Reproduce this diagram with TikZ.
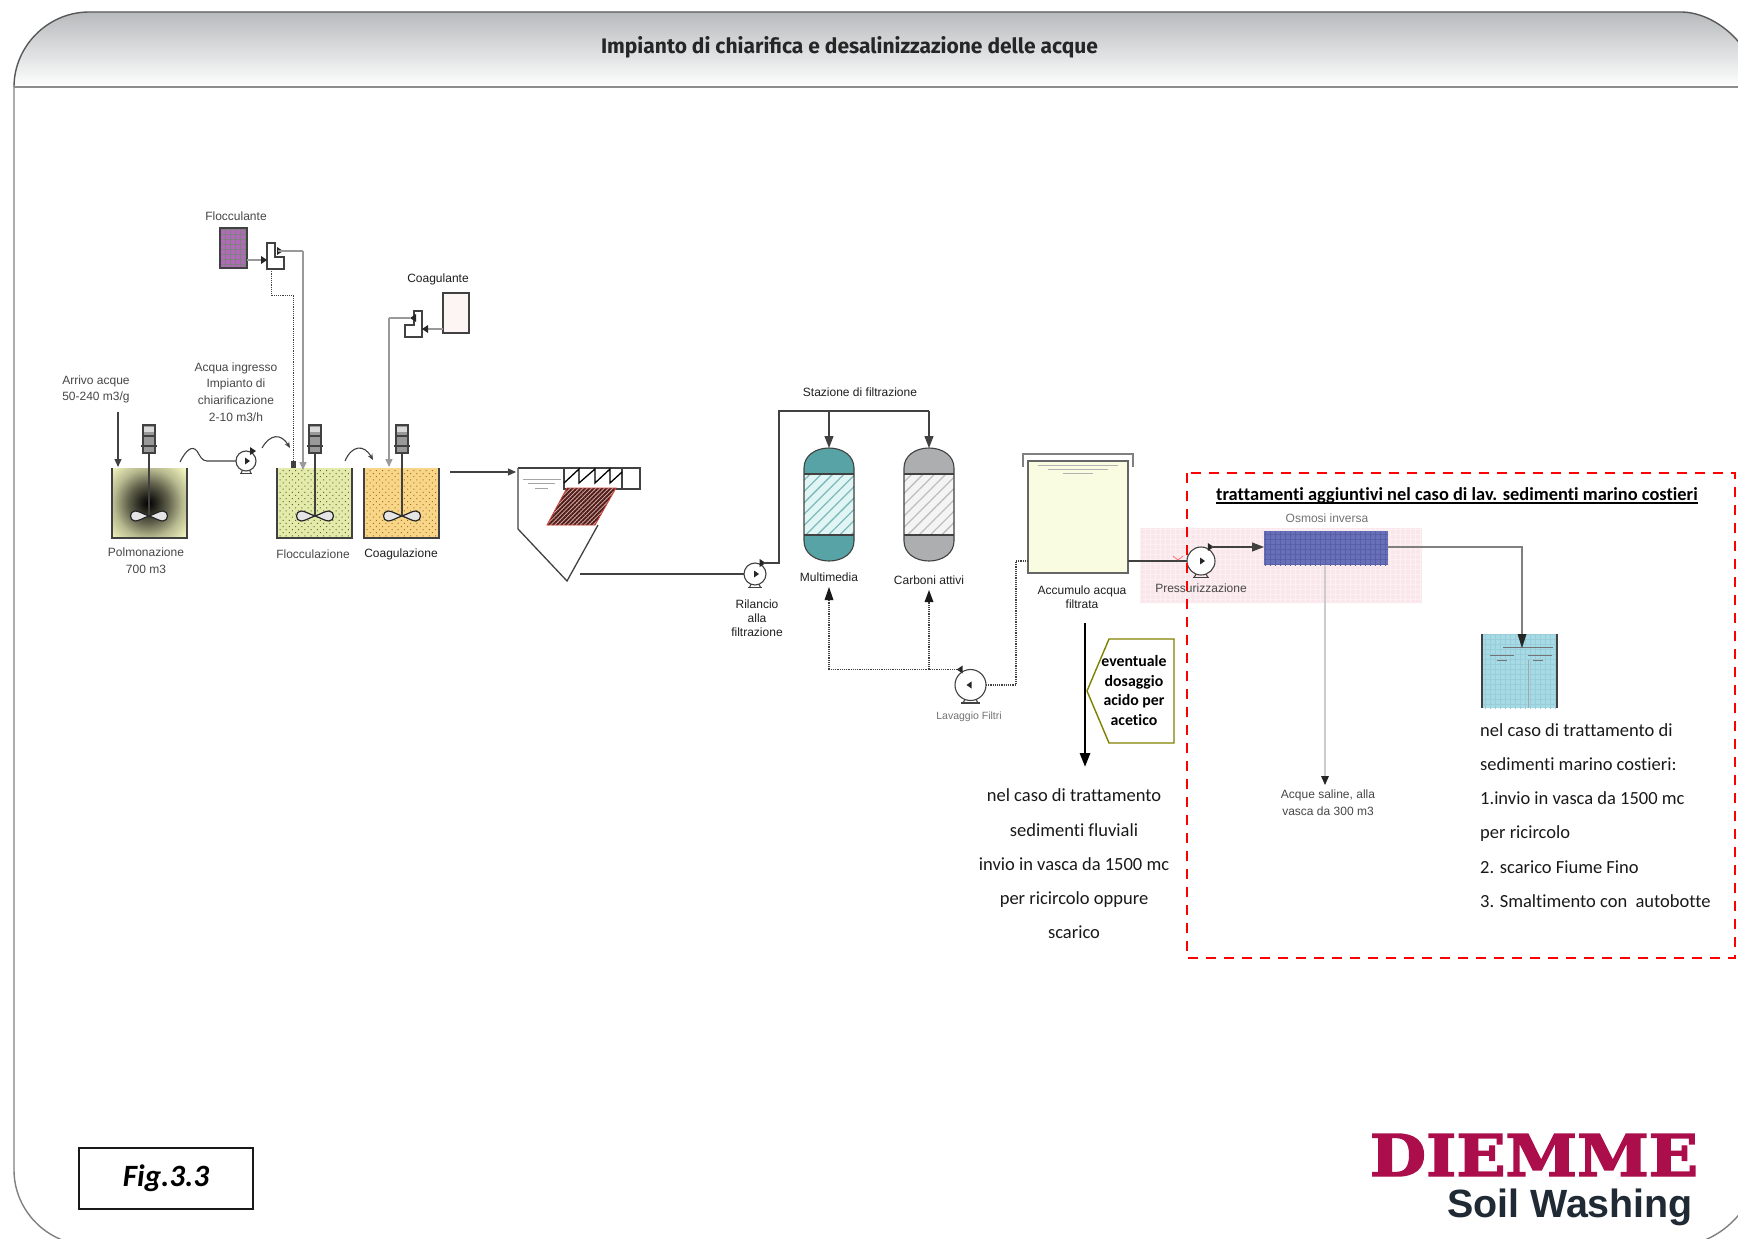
\documentclass[tikz,border=0pt]{standalone}
\usepackage{fontspec}
\usepackage{graphicx}
\setmainfont{Liberation Sans}
\newfontfamily\carl[Ligatures=NoCommon]{Carlito}
\newfontfamily\opens{Fira Sans}
\newfontfamily\slab[BoldFeatures={FakeBold=2.5}]{DejaVu Serif}
\usetikzlibrary{arrows.meta,patterns.meta}
\definecolor{ln}{RGB}{65,65,65}
\definecolor{polc}{RGB}{243,245,190}
\definecolor{flocc}{RGB}{228,234,170}
\definecolor{coagc}{RGB}{248,214,135}
\definecolor{teal1}{RGB}{88,163,165}
\definecolor{teal2}{RGB}{226,245,245}
\definecolor{tealh}{RGB}{125,185,188}
\definecolor{grey1}{RGB}{172,174,176}
\definecolor{grey2}{RGB}{244,244,244}
\definecolor{greyh}{RGB}{190,190,190}
\definecolor{olive1}{RGB}{128,128,0}
\definecolor{logo}{RGB}{172,14,76}
\definecolor{logob}{RGB}{32,42,52}
\definecolor{pinkb}{RGB}{249,231,235}
\definecolor{pinkg}{RGB}{252,240,242}
\definecolor{rob}{RGB}{104,112,186}
\definecolor{robg}{RGB}{88,96,165}
\definecolor{wat}{RGB}{166,218,228}
\definecolor{watg}{RGB}{152,205,217}
\definecolor{purp}{RGB}{176,106,184}
\definecolor{headg}{RGB}{183,186,188}
\definecolor{lamel}{RGB}{225,175,165}
\definecolor{lamdk}{RGB}{75,30,30}
\definecolor{lamred}{RGB}{205,70,60}
\definecolor{cgfill}{RGB}{252,245,243}
\definecolor{accf}{RGB}{250,252,226}
\definecolor{dotg}{RGB}{80,110,50}
\definecolor{dotb}{RGB}{170,105,40}
\pgfdeclareradialshading{polsh}{\pgfpoint{0bp}{0bp}}{%
 color(0bp)=(black);
 color(4bp)=(black!85!polc);
 color(10bp)=(black!60!polc);
 color(17bp)=(black!25!polc);
 color(25bp)=(polc);
 color(50bp)=(polc)}
\tikzset{
 x=1pt,y=-1pt,
 pipe/.style={draw=ln,line width=1.1pt},
 lightpipe/.style={draw=black!20,line width=1.4pt},
 dospipe/.style={draw=black!40,line width=1.4pt},
 dotpipe/.style={draw=ln,line width=1.3pt,dash pattern=on 1.2pt off 1pt},
 tip/.style={-{Triangle[length=8pt,width=7pt]}},
 bigtip/.style={-{Triangle[length=12pt,width=9pt]}},
 lab/.style={font=\fontsize{12}{16.7}\selectfont,text=black!72,align=center,inner sep=0pt},
 labd/.style={lab,text=black!88},
 labl/.style={lab,text=black!55},
 tightlab/.style={labd,font=\fontsize{12}{14}\selectfont},
 cal/.style={font=\carl\fontsize{18.5}{34.2}\selectfont,text=black!90,inner sep=0pt},
 vesselnode/.style={inner sep=0pt,outer sep=0pt,minimum width=50pt,minimum height=113pt},
 tanknode/.style={inner sep=0pt,outer sep=0pt,minimum width=75pt,minimum height=70pt},
 dosenode/.style={inner sep=0pt,outer sep=0pt,minimum width=17pt,minimum height=26pt},
}
\newcommand{\pumpat}[5]{%
 \begin{scope}[shift={(#2,#3)},xscale=#5]
  \draw[ln,line width=1.1pt] (-0.6*#4,#4+2.5) -- (0.6*#4,#4+2.5);
  \draw[ln,line width=1.1pt] (-0.5*#4,#4+2.5) -- (-0.3*#4,#4-2);
  \draw[ln,line width=1.1pt] (0.5*#4,#4+2.5) -- (0.3*#4,#4-2);
  \node[circle,draw=ln,line width=1.1pt,fill=white,inner sep=0pt,outer sep=0pt,minimum size=2*#4pt] (#1) at (0,0) {};
  \fill[black!85] (-1,-3.5) -- (4,0) -- (-1,3.5) -- cycle;
  \coordinate (#1-out) at (0.7*#4,-#4);
  \fill[black!85] (0.7*#4-3,-#4-4) -- (0.7*#4+3,-#4) -- (0.7*#4-3,-#4+4) -- cycle;
 \end{scope}}
\newcommand{\mixerat}[1]{%
 \begin{scope}[shift={(#1,0)}]
  \draw[ln,line width=1.8pt] (0,453) -- (0,516);
  \draw[ln,line width=1.3pt,fill=black!40] (-6,425) rectangle (6,453);
  \fill[black!15] (-5,427) rectangle (5,432);
  \draw[ln,line width=1.2pt] (-8,446) -- (8,446);
  \draw[ln,line width=1.2pt] (-6,436) -- (6,436);
  \draw[black!85,line width=1.2pt,fill=black!10]
   (0,516) .. controls (6,514) and (10,511) .. (14,511) .. controls (20,511) and (20,521) .. (14,521) .. controls (10,521) and (6,518) .. (0,516)
   .. controls (-6,514) and (-10,511) .. (-14,511) .. controls (-20,511) and (-20,521) .. (-14,521) .. controls (-10,521) and (-6,518) .. (0,516);
 \end{scope}}
\newcommand{\vesselfill}[4]{% cx, band colour, mid colour, hatch colour
 \begin{scope}[shift={(#1,0)}]
  \path[fill=#2] (-25,468) .. controls (-25,456) and (-14,448) .. (0,448) .. controls (14,448) and (25,456) .. (25,468) -- (25,541) .. controls (25,553) and (14,561) .. (0,561) .. controls (-14,561) and (-25,553) .. (-25,541) -- cycle;
  \fill[#3] (-25,474) rectangle (25,535);
  \fill[pattern={Lines[angle=45,distance=8pt,line width=1.3pt]},pattern color=#4] (-25,474) rectangle (25,535);
  \draw[ln,line width=1.1pt] (-25,468) .. controls (-25,456) and (-14,448) .. (0,448) .. controls (14,448) and (25,456) .. (25,468) -- (25,541) .. controls (25,553) and (14,561) .. (0,561) .. controls (-14,561) and (-25,553) .. (-25,541) -- cycle;
  \draw[ln,line width=1.1pt] (-25,474) -- (25,474) (-25,535) -- (25,535);
 \end{scope}}
\newcommand{\doser}[3]{% x of left, y of top, mirror
 \begin{scope}[shift={(#1,#2)},xscale=#3]
  \draw[ln,line width=1.1pt,fill=white] (0,0) -- (8,0) -- (8,14) -- (17,14) -- (17,26) -- (0,26) -- cycle;
 \end{scope}}
\newcommand{\ulin}[1]{\setbox0\hbox{#1}\rlap{\rule[-3.5pt]{\wd0}{1.8pt}}\box0}
\begin{document}
\begin{tikzpicture}
\useasboundingbox (0,0) rectangle (1738,1239);
\clip (0,0) rectangle (1738,1239);
\fill[white] (0,0) rectangle (1738,1239);
% page frame
\shade[top color=headg,bottom color=white]
 (14,87) .. controls (14,46) and (48,12) .. (89,12) -- (1681,12) .. controls (1715,12) and (1756,46) .. (1756,87) -- cycle;
\draw[black!65,line width=1.4pt] (14,87) .. controls (14,46) and (48,12) .. (89,12) -- (1681,12) .. controls (1715,12) and (1756,46) .. (1756,87);
\draw[black!50,line width=1.4pt] (14,87) -- (14,1170) .. controls (14,1211) and (48,1245) .. (89,1245) -- (1681,1245) .. controls (1715,1245) and (1756,1211) .. (1756,1170) -- (1756,87);
\draw[black!45,line width=1.8pt] (14,87) -- (1756,87);
\node[font=\opens\bfseries\fontsize{21}{24}\selectfont,text=black!85,inner sep=0pt] (title) at (849.5,47) {Impianto di chiarifica e desalinizzazione delle acque};

% pink backdrop of reverse osmosis
\fill[pinkb] (1140,528) rectangle (1422,603);
\fill[pattern={Hatch[angle=0,distance=5pt,line width=0.3pt]},pattern color=pinkg] (1140,528) rectangle (1422,603);

% Polmonazione
\node[tanknode,fill=polc] (pol) at (149.5,503) {};
\begin{scope}
 \clip (112,468) rectangle (187,538);
 \shade[shading=polsh] (148,503) circle (50);
\end{scope}
\draw[ln,line width=1.2pt] (pol.north west) -- (pol.south west) -- (pol.south east) -- (pol.north east);
\mixerat{149}
\node[lab,anchor=center] (arrivo) at (96,389.5) {Arrivo acque\\50-240 m3/g};
\coordinate (arrivoS) at (118,412);
\coordinate (polin) at (118,467);
\draw[pipe,tip] (arrivoS) -- (polin);
\node[lab] (pollab) at (146,561) {Polmonazione\\700 m3};

% feed pump
\pumpat{pf}{246}{461}{10}{1}
\coordinate (wa) at (180,462);
\draw[pipe] (wa) .. controls (186,450) and (192,445) .. (197,451) .. controls (200,456) and (202,461) .. (207,461) -- (pf.west);
\coordinate (wb) at (262,448);
\coordinate (wc) at (290,448);
\draw[pipe,-{Stealth[length=6pt,width=5pt]}] (wb) .. controls (270,434) and (281,433) .. (wc);
\node[lab] (ingresso) at (236,392) {Acqua ingresso\\Impianto di\\chiarificazione\\2-10 m3/h};

% Flocculazione
\node[tanknode,fill=flocc] (flo) at (314.5,503) {};
\fill[pattern={Dots[distance=4.4pt,radius=0.7pt,angle=45]},pattern color=dotg] (flo.north west) rectangle (flo.south east);
\draw[ln,line width=1.2pt] (flo.north west) -- (flo.south west) -- (flo.south east) -- (flo.north east);
\mixerat{315}
\node[lab] (flolab) at (313,554) {Flocculazione};

% Coagulazione
\node[tanknode,fill=coagc] (coa) at (401.5,503) {};
\fill[pattern={Dots[distance=4.4pt,radius=0.7pt,angle=45]},pattern color=dotb] (coa.north west) rectangle (coa.south east);
\draw[ln,line width=1.2pt] (coa.north west) -- (coa.south west) -- (coa.south east) -- (coa.north east);
\mixerat{402}
\node[labd] (coalab) at (401,554) {Coagulazione};
\coordinate (wd) at (345,461);
\coordinate (we) at (373,460);
\draw[pipe,-{Stealth[length=6pt,width=5pt]}] (wd) .. controls (352,445) and (364,444) .. (we);

% Flocculante
\node[lab] (flcl) at (236,216) {Flocculante};
\node[inner sep=0pt,outer sep=0pt,minimum width=27pt,minimum height=40pt,fill=purp] (flct) at (233.5,248) {};
\fill[pattern={Hatch[angle=0,distance=5pt,line width=0.3pt]},pattern color=black!50] (flct.north west) rectangle (flct.south east);
\draw[ln,line width=1.2pt] (flct.north west) -- (flct.south west) -- (flct.south east) -- (flct.north east) -- cycle;
\node[dosenode] (dos1) at (275.5,256) {};
\doser{267}{243}{1}
\coordinate (flco) at (247,260);
\coordinate (dos1i) at (262,260);
\draw[dospipe] (flco) -- (dos1i);
\fill[black!85] (261,256) -- (267,260) -- (261,264) -- cycle;
\coordinate (dos1o) at (278,251);
\coordinate (dos1b) at (303,251);
\coordinate (floin) at (303,470);
\fill[black!85] (277,247) -- (283,251) -- (277,255) -- cycle;
\draw[dospipe] (dos1o) -- (dos1b);
\draw[dospipe,tip] (dos1b) -- (floin);
\coordinate (dos1s) at (271,269);
\coordinate (dos1k) at (271,295);
\coordinate (dos1m) at (293,295);
\coordinate (dos1e) at (293,462);
\draw[dotpipe,line width=1pt] (dos1s) -- (dos1k) -- (dos1m) -- (dos1e);
\fill[ln] (291,461) rectangle (296,468);

% Coagulante
\node[labd] (cgl) at (438,279) {Coagulante};
\node[inner sep=0pt,outer sep=0pt,minimum width=26pt,minimum height=40pt,fill=cgfill] (cgt) at (456,313) {};
\draw[ln,line width=1.2pt] (cgt.north west) -- (cgt.south west) -- (cgt.south east) -- (cgt.north east) -- cycle;
\node[dosenode] (dos2) at (413.5,323.5) {};
\doser{422}{311}{-1}
\coordinate (cgo) at (443,329);
\coordinate (dos2i) at (427,329);
\draw[dospipe] (cgo) -- (dos2i);
\fill[black!85] (428,325) -- (422,329) -- (428,333) -- cycle;
\coordinate (dos2o) at (410,318);
\coordinate (dos2b) at (389,318);
\coordinate (coain) at (389,467);
\fill[black!85] (416,314) -- (410,318) -- (416,322) -- cycle;
\draw[dospipe] (dos2o) -- (dos2b);
\draw[dospipe,tip] (dos2b) -- (coain);

% Clarifier
\coordinate (claro) at (450,472);
\coordinate (clari) at (516,472);
\draw[pipe,tip] (claro) -- (clari);
\draw[ln,line width=1.3pt] (518,468) -- (518,529) -- (567,581) -- (598,525);
\draw[ln,line width=1.3pt] (518,468) -- (640,468) -- (640,489) -- (564,489) -- (564,468);
\draw[ln,line width=1.3pt] (622,468) -- (622,489);
\draw[black,line width=1.3pt] (564,483) -- (579,469) -- (579,483) -- (595,469) -- (595,483) -- (610,469) -- (610,483) -- (622,472);
\draw[black!35,line width=0.8pt] (523,479) -- (561,479) (528,483) -- (555,483) (535,488) -- (548,488);
\fill[lamel] (567,488) -- (616,488) -- (595,525) -- (547,525) -- cycle;
\fill[pattern={Lines[angle=45,distance=3pt,line width=1.9pt]},pattern color=lamdk] (567,488) -- (616,488) -- (595,525) -- (547,525) -- cycle;
\draw[lamred,line width=0.9pt] (567,488) -- (616,488) -- (595,525) -- (547,525) -- cycle;

% Rilancio pump
\pumpat{pr}{755}{574}{11}{1}
\coordinate (clout) at (580,574);
\draw[pipe] (clout) -- (pr.west);
\node[tightlab] (rillab) at (757,618) {Rilancio\\alla\\filtrazione};

% Vessels
\node[vesselnode] (mm) at (829,504.5) {};
\node[vesselnode] (ca) at (929,504.5) {};
\vesselfill{829}{teal1}{teal2}{tealh}
\vesselfill{929}{grey1}{grey2}{greyh}
\node[labd] (stz) at (860,392) {Stazione di filtrazione};
\node[labd] (mmlab) at (829,577) {Multimedia};
\node[labd] (calab) at (929,580) {Carboni attivi};
\coordinate (rk2) at (779,411);
\coordinate (rk1) at (pr-out -| rk2);
\coordinate (rk3) at (829,411);
\coordinate (rk4) at (929,411);
\draw[pipe] (pr-out) -- (rk1) -- (rk2) -- (rk4);
\draw[pipe,bigtip] (rk3) -- (mm.north);
\draw[pipe,bigtip] (rk4) -- (ca.north);

% Lavaggio
\pumpat{pl}{970.5}{685}{15.5}{-1}
\node[labl,font=\fontsize{10.5}{13}\selectfont] (lavlab) at (969,717) {Lavaggio Filtri};
\coordinate (mmu) at (829,600);
\coordinate (cau) at (929,602);
\coordinate (lk1) at (pl-out -| mmu);
\coordinate (lk2) at (pl-out -| cau);
\draw[dotpipe] (pl-out) -- (lk1);
\draw[dotpipe] (lk1) -- (mmu);
\draw[dotpipe] (lk2) -- (cau);
\fill[black!90] (824.5,600) -- (829,587) -- (833.5,600) -- cycle;
\fill[black!90] (924.5,602) -- (929,590) -- (933.5,602) -- cycle;

% Accumulo
\node[inner sep=0pt,outer sep=0pt,minimum width=100pt,minimum height=112pt,fill=accf] (acc) at (1078,517) {};
\draw[black!60,line width=1.6pt] (acc.north west) rectangle (acc.south east);
\draw[black!50,line width=1.3pt] (1023,467) -- (1023,454) -- (1133,454) -- (1133,467);
\draw[black!30,line width=0.9pt] (1038,465) -- (1118,465) (1048,469) -- (1108,469) (1063,473) -- (1093,473);
\node[tightlab] (acclab) at (1082,597.5) {Accumulo acqua\\filtrata};
\coordinate (lk3) at (1016,685);
\coordinate (lk4) at (1016,561);
\coordinate (acco) at (1028,561);
\coordinate (acce) at (1128,561);
\draw[dotpipe] (pl.east) -- (lk3) -- (lk4) -- (acco);

% Pressurizzazione
\pumpat{pp}{1201}{561}{14}{1}
\draw[pipe] (acce) -- (pp.west);
\draw[red!60,line width=0.7pt] (1173,556) -- (1178,560) -- (1183,556);
\node[lab] (prlab) at (1201,588) {Pressurizzazione};

% Osmosi
\node[inner sep=0pt,outer sep=0pt,minimum width=124pt,minimum height=34pt,fill=rob] (ro) at (1326,548) {};
\fill[pattern={Hatch[angle=0,distance=5pt,line width=0.3pt]},pattern color=robg] (ro.north west) rectangle (ro.south east);
\node[labl] (rolab) at (1327,518) {Osmosi inversa};
\coordinate (roin) at (pp-out -| ro.west);
\draw[pipe,bigtip] (pp-out) -- (roin);

% salt water
\coordinate (roS) at (1325,565);
\coordinate (salt) at (1325,776);
\draw[lightpipe] (roS) -- (salt);
\fill[black!85] (1321,776) -- (1329,776) -- (1325,785) -- cycle;
\node[lab] (saltlab) at (1328,802.5) {Acque saline, alla\\vasca da 300 m3};

% final tank
\node[inner sep=0pt,outer sep=0pt,minimum width=75pt,minimum height=74pt,fill=wat] (fin) at (1519.5,671) {};
\fill[pattern={Hatch[angle=0,distance=5pt,line width=0.3pt]},pattern color=watg] (fin.north west) rectangle (fin.south east);
\draw[ln,line width=1.1pt] (fin.north west) -- (fin.south west) (fin.north east) -- (fin.south east);
\draw[black!35,line width=0.6pt] (1528,660) -- (1528,708);
\draw[black!55,line width=0.8pt] (1503,647) -- (1553,647) (1490,655) -- (1514,655) (1528,655) -- (1552,655) (1497,660) -- (1507,660) (1533,660) -- (1543,660);
\coordinate (fink) at (1522,547);
\coordinate (fini) at (1522,640);
\coordinate (roe) at (1388,547);
\draw[black!50,line width=1.4pt] (roe) -- (fink) -- (fini);
\fill[black!85] (1517.5,634) -- (1526.5,634) -- (1522,648) -- cycle;

% thick arrow & call-out
\coordinate (disS) at (1085,623);
\coordinate (disE) at (1085,767);
\draw[black,line width=2.8pt,-{Triangle[length=14pt,width=10pt]}] (disS) -- (disE);
\draw[olive1,line width=1.4pt,fill=white] (1109,639) -- (1174,639) -- (1174,743) -- (1109,743) -- (1087,691) -- cycle;
\node[font=\carl\bfseries\fontsize{15.8}{19.8}\selectfont,text=black,align=center,inner sep=0pt] (dos) at (1134,690.5) {eventuale\\dosaggio\\acido per\\acetico};
\node[cal,align=center] (fluv) at (1074,864) {nel caso di trattamento\\sedimenti fluviali\\invio in vasca da 1500 mc\\per ricircolo oppure\\scarico};

% red box
\draw[red,line width=2.6pt,dash pattern=on 10pt off 8pt] (1187,473) rectangle (1735,958);
\node[font=\carl\bfseries\fontsize{18.4}{22}\selectfont,text=black,inner sep=0pt,anchor=west] (rtitle) at (1216,496) {\ulin{trattamenti aggiuntivi nel caso di lav. sedimenti marino costieri}};
\node[cal,align=left,anchor=west] (mar) at (1480,815.5) {nel caso di trattamento di\\sedimenti marino costieri:\\1.invio in vasca da 1500 mc\\per ricircolo\\2. scarico Fiume Fino\\3. Smaltimento con\ \ autobotte};

% Fig box
\node[draw=black!90,line width=1.6pt,minimum width=174pt,minimum height=61pt,inner sep=0pt,font=\carl\bfseries\itshape\fontsize{31}{36}\selectfont] (fig) at (166,1178.5) {Fig.3.3};

% logo
\node[inner sep=0pt,text=logo] (dm) at (1534,1155) {\resizebox{328pt}{42pt}{\slab\bfseries DIEMME}};
\node[inner sep=0pt,text=logob] (sw) at (1570,1207) {\resizebox{246pt}{!}{\bfseries Soil Washing}};
\end{tikzpicture}
\end{document}
